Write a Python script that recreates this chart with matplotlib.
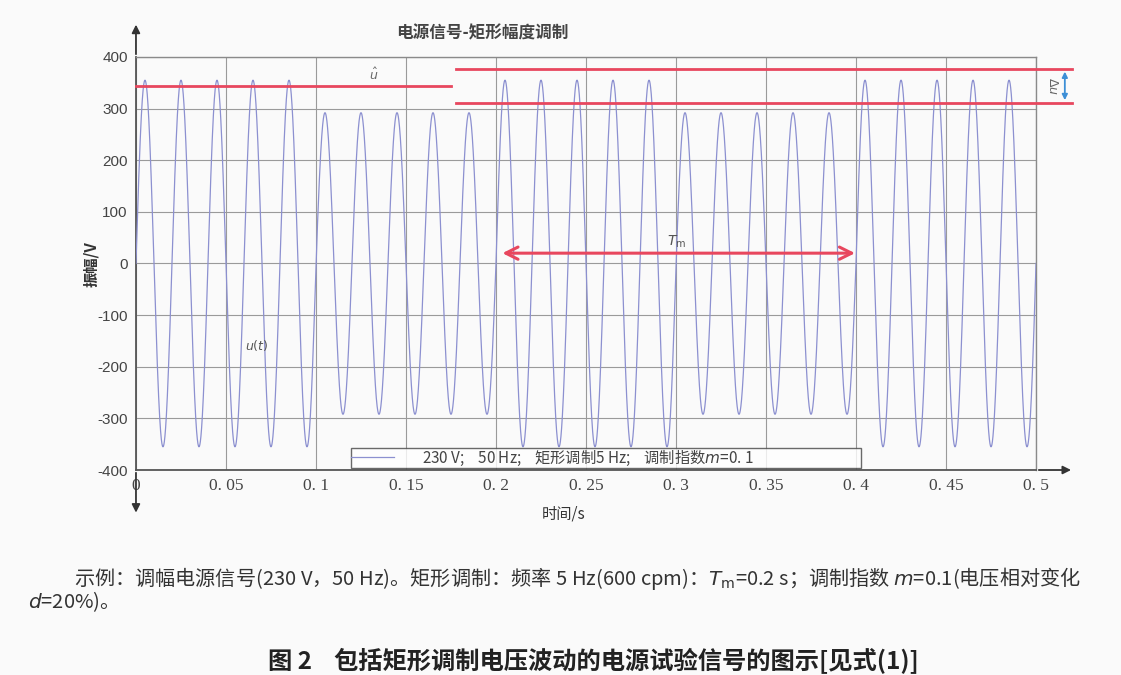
import numpy as np
import matplotlib
matplotlib.use("Agg")
import matplotlib.pyplot as plt

plt.rcParams['font.family'] = ['Noto Sans CJK SC', 'DejaVu Sans']

# ---- data ----
carrier_freq_hz = 50
segment_edges = [0.0, 0.1, 0.2, 0.3, 0.4, 0.5]          # s
segment_amplitudes = [355, 292, 355, 292, 355]          # V (peak)
x_ticks = [0, 0.05, 0.1, 0.15, 0.2, 0.25, 0.3, 0.35, 0.4, 0.45, 0.5]
x_tick_labels = ["0", "0. 05", "0. 1", "0. 15", "0. 2", "0. 25", "0. 3", "0. 35", "0. 4", "0. 45", "0. 5"]
y_ticks = [400, 300, 200, 100, 0, -100, -200, -300, -400]
u_hat_level = 344
u_hat_span = [0.0, 0.175]
delta_u_levels = [377, 311]
delta_u_span = [0.178, 0.52]
tm_span = [0.202, 0.401]
tm_level = 20

title = "电源信号-矩形幅度调制"
legend_label = "230 V;    50 Hz;    矩形调制5 Hz;    调制指数$m$=0. 1" + "\u3000" * 8

# ---- build signal ----
t = np.linspace(segment_edges[0], segment_edges[-1], 20001)
amp = np.zeros_like(t)
for a, b, A in zip(segment_edges[:-1], segment_edges[1:], segment_amplitudes):
    amp[(t >= a) & (t <= b)] = A
u = amp * np.sin(2 * np.pi * carrier_freq_hz * t)

bg = '#fafafa'
fig = plt.figure(figsize=(11.21, 6.75), dpi=100, facecolor=bg)
ax = fig.add_axes([0.1213, 0.3037, 0.8029, 0.6119], facecolor=bg)

ax.plot(t, u, color='#8c90d0', lw=0.9, label=legend_label, zorder=3)
ax.set_xlim(0, 0.5)
ax.set_ylim(-400, 400)
ax.set_xticks(x_ticks)
ax.set_xticklabels(x_tick_labels, fontfamily=['Liberation Serif', 'DejaVu Serif'], fontsize=12.5, color='#444444')
ax.set_yticks(y_ticks)
ax.set_yticklabels([str(v) for v in y_ticks], fontfamily=['Liberation Sans'], fontsize=11, color='#444444')
ax.tick_params(length=0, pad=6)
ax.grid(True, color='#9a9a9a', lw=0.8)
for s in ['top', 'right']:
    ax.spines[s].set_color('#8a8a8a')
    ax.spines[s].set_linewidth(1.0)
for s in ['left', 'bottom']:
    ax.spines[s].set_color('#555555')
    ax.spines[s].set_linewidth(1.3)

# axis arrows
ax.annotate('', xy=(0, 1.085), xytext=(0, 1.0), xycoords='axes fraction',
            arrowprops=dict(arrowstyle='-|>', color='#333333', lw=1.3, mutation_scale=12), annotation_clip=False)
ax.annotate('', xy=(0, -0.11), xytext=(0, 0.0), xycoords='axes fraction',
            arrowprops=dict(arrowstyle='-|>', color='#333333', lw=1.3, mutation_scale=12), annotation_clip=False)
ax.annotate('', xy=(1.042, 0), xytext=(1.0, 0), xycoords='axes fraction',
            arrowprops=dict(arrowstyle='-|>', color='#333333', lw=1.3, mutation_scale=12), annotation_clip=False)

red = '#e8475e'
ax.plot(u_hat_span, [u_hat_level, u_hat_level], color=red, lw=2, clip_on=False, zorder=4)
for lv in delta_u_levels:
    ax.plot(delta_u_span, [lv, lv], color=red, lw=2, clip_on=False, zorder=4)
ax.annotate('', xy=(0.516, delta_u_levels[0]), xytext=(0.516, delta_u_levels[1]),
            arrowprops=dict(arrowstyle='<|-|>', color='#3d8fd6', lw=1.3, mutation_scale=8),
            annotation_clip=False)
ax.text(0.509, np.mean(delta_u_levels), r'$\Delta u$', rotation=-90, ha='center', va='center',
        fontsize=9, color='#666666', clip_on=False)
ax.text(0.132, 366, r'$\hat{u}$', ha='center', va='center', fontsize=9, color='#666666')

ax.annotate('', xy=(tm_span[0], tm_level), xytext=(tm_span[1], tm_level),
            arrowprops=dict(arrowstyle='<->', color=red, lw=2.2, mutation_scale=22), zorder=5)
ax.text(0.3005, 42, r'$T_{\mathrm{m}}$', ha='center', va='center', fontsize=10, color='#555555',
        fontfamily='DejaVu Serif')
ax.text(0.067, -158, r'$u(t)$', ha='center', va='center', fontsize=9, color='#555555')

leg = ax.legend(loc='lower left', bbox_to_anchor=(0.2367, 0.0), ncol=1,
                prop={'size': 11},
                frameon=True, fancybox=False, borderpad=0.0, handlelength=2.8, handletextpad=1.8,
                borderaxespad=0.15)
leg.get_frame().set_edgecolor('#444444')
leg.get_frame().set_linewidth(1.0)
leg.get_frame().set_facecolor('white')
for txt in leg.get_texts():
    txt.set_color('#444444')

ax.set_title(title, fontsize=12, color='#444444', pad=13, x=0.385, fontweight='bold')
fig.text(0.0812, 0.609, "振幅/V", rotation=90, ha='center', va='center', fontsize=11,
         color='#333333', fontweight='bold')
fig.text(0.503, 0.238, "时间/s", ha='center', va='center', fontsize=11, color='#333333')

fig.text(0.066, 0.143,
         "示例：调幅电源信号(230 V，50 Hz)。矩形调制：频率 5 Hz(600 cpm)：$T_{\\mathrm{m}}$=0.2 s；调制指数 $m$=0.1(电压相对变化",
         ha='left', va='center', fontsize=14.5, color='#333333')
fig.text(0.025, 0.108, "$d$=20%)。", ha='left', va='center', fontsize=14.5, color='#333333')
fig.text(0.529, 0.021, "图 2    包括矩形调制电压波动的电源试验信号的图示[见式(1)]",
         ha='center', va='center', fontsize=17.5, fontweight='bold', color='#222222')

fig.savefig('out.png', dpi=100, facecolor=bg)
